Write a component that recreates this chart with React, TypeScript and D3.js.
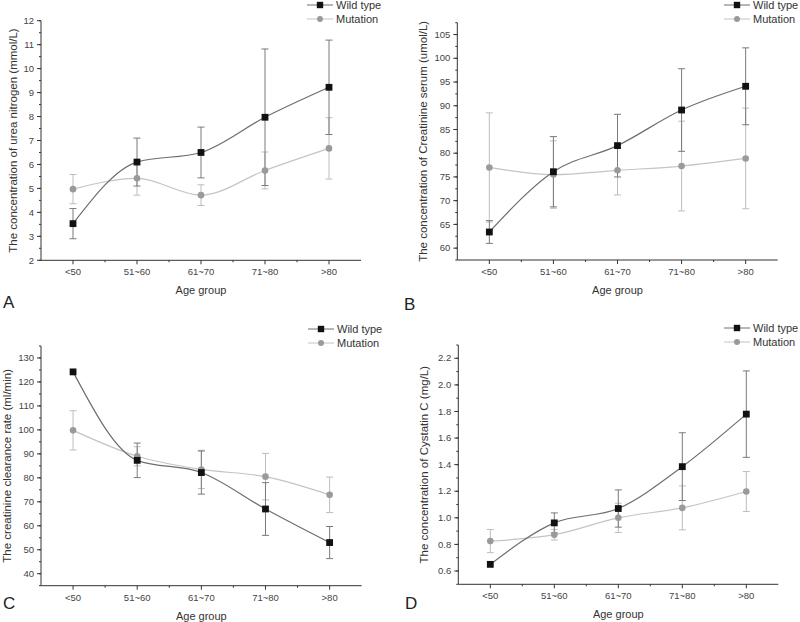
import React from 'react'
import * as d3 from 'd3'

// age groups shared by all four panels
const ageGroups = ['<50', '51~60', '61~70', '71~80', '>80']

// A: urea nitrogen
const ureaWild = [3.53, 6.1, 6.5, 7.97, 9.22]
const ureaWildErr = [0.63, 1.0, 1.06, 2.85, 1.97]
const ureaMut = [4.97, 5.42, 4.72, 5.75, 6.67]
const ureaMutErr = [0.61, 0.7, 0.43, 0.77, 1.28]

// B: creatinine serum
const creaWild = [63.4, 76.1, 81.6, 89.1, 94.1]
const creaWildErr = [2.4, 7.4, 6.6, 8.7, 8.1]
const creaMut = [77.0, 75.5, 76.4, 77.3, 78.9]
const creaMutErr = [11.5, 7.1, 5.2, 9.45, 10.6]

// C: creatinine clearance rate
const clearWild = [124.2, 87.3, 82.2, 67.0, 53.0]
const clearWildErr = [0, 7.2, 9.0, 11.0, 6.7]
const clearMut = [99.8, 89.0, 83.5, 80.5, 72.9]
const clearMutErr = [8.2, 4.0, 8.0, 9.7, 7.4]

// D: cystatin C
const cysWild = [0.65, 0.962, 1.07, 1.385, 1.78]
const cysWildErr = [0, 0.075, 0.14, 0.255, 0.325]
const cysMut = [0.825, 0.873, 1.0, 1.075, 1.198]
const cysMutErr = [0.087, 0.04, 0.11, 0.165, 0.15]

const FONT = 'Liberation Sans, Arial, sans-serif'
const WILD_LINE = '#6e6e6e'
const WILD_ERR = '#7a7a7a'
const MUT_LINE = '#c4c4c4'
const MUT_MARK = '#9a9a9a'
const MUT_ERR = '#bdbdbd'

interface PanelProps {
  letter: string
  yTitle: string
  x0: number
  x1: number
  yTop: number
  yBot: number
  domain: [number, number]
  ticks: number[]
  minorStep: number
  fmt: (v: number) => string
  titleOffset: number
  wild: number[]
  wildErr: number[]
  mut: number[]
  mutErr: number[]
  legendX: number
  legendY: number
  letterX: number
  letterY: number
}

function Panel(p: PanelProps) {
  const x = d3.scaleLinear().domain([0.5, ageGroups.length + 0.5]).range([p.x0, p.x1])
  const y = d3.scaleLinear().domain(p.domain).range([p.yBot, p.yTop])
  const line = d3.line<number>()
    .x((_, i) => x(i + 1))
    .y(d => y(d))
    .curve(d3.curveMonotoneX)

  const minor: number[] = []
  for (let v = Math.ceil(p.domain[0] / p.minorStep) * p.minorStep; v <= p.domain[1] + 1e-9; v += p.minorStep) {
    minor.push(v)
  }
  const xMinor = d3.range(1, ageGroups.length).map(i => i + 0.5)

  const errBars = (vals: number[], errs: number[], color: string, key: string) =>
    vals.map((v, i) => {
      if (!errs[i]) return null
      const cx = x(i + 1)
      const top = y(v + errs[i])
      const bot = y(v - errs[i])
      return (
        <g key={key + i} stroke={color} strokeWidth={1}>
          <line x1={cx} x2={cx} y1={top} y2={bot} />
          <line x1={cx - 3.5} x2={cx + 3.5} y1={top} y2={top} />
          <line x1={cx - 3.5} x2={cx + 3.5} y1={bot} y2={bot} />
        </g>
      )
    })

  const midY = (p.yTop + p.yBot) / 2
  const midX = (p.x0 + p.x1) / 2

  return (
    <g fontFamily={FONT}>
      {/* axes */}
      <line x1={p.x0} x2={p.x0} y1={p.yTop} y2={p.yBot} stroke="#333" strokeWidth={1} />
      <line x1={p.x0} x2={p.x1} y1={p.yBot} y2={p.yBot} stroke="#333" strokeWidth={1} />
      {minor.map((v, i) => (
        <line key={'ym' + i} x1={p.x0 - 2} x2={p.x0} y1={y(v)} y2={y(v)} stroke="#333" />
      ))}
      {p.ticks.map((v, i) => (
        <g key={'yt' + i}>
          <line x1={p.x0 - 4} x2={p.x0} y1={y(v)} y2={y(v)} stroke="#333" />
          <text x={p.x0 - 7} y={y(v) + 3.2} textAnchor="end" fontSize={9.5} fill="#444">
            {p.fmt(v)}
          </text>
        </g>
      ))}
      {xMinor.map((v, i) => (
        <line key={'xm' + i} x1={x(v)} x2={x(v)} y1={p.yBot} y2={p.yBot + 2} stroke="#333" />
      ))}
      {ageGroups.map((g, i) => (
        <g key={'xt' + i}>
          <line x1={x(i + 1)} x2={x(i + 1)} y1={p.yBot} y2={p.yBot + 4} stroke="#333" />
          <text x={x(i + 1)} y={p.yBot + 15} textAnchor="middle" fontSize={9.5} fill="#444">
            {g}
          </text>
        </g>
      ))}
      <text x={midX} y={p.yBot + 34} textAnchor="middle" fontSize={11} fill="#333">
        Age group
      </text>
      <text
        transform={`translate(${p.x0 - p.titleOffset},${midY}) rotate(-90)`}
        textAnchor="middle"
        fontSize={11.5}
        fill="#333"
      >
        {p.yTitle}
      </text>
      <text x={p.letterX} y={p.letterY} fontSize={17} fill="#222">
        {p.letter}
      </text>

      {/* error bars */}
      {errBars(p.mut, p.mutErr, MUT_ERR, 'me')}
      {errBars(p.wild, p.wildErr, WILD_ERR, 'we')}

      {/* lines */}
      <path d={line(p.mut) || ''} fill="none" stroke={MUT_LINE} strokeWidth={1.2} />
      <path d={line(p.wild) || ''} fill="none" stroke={WILD_LINE} strokeWidth={1.2} />

      {p.mut.map((v, i) => (
        <circle key={'mc' + i} cx={x(i + 1)} cy={y(v)} r={3.3} fill={MUT_MARK} />
      ))}
      {p.wild.map((v, i) => (
        <rect key={'wr' + i} x={x(i + 1) - 3.4} y={y(v) - 3.4} width={6.8} height={6.8} fill="#111" />
      ))}

      {/* legend */}
      <g>
        <line x1={p.legendX} x2={p.legendX + 26} y1={p.legendY} y2={p.legendY} stroke={WILD_LINE} />
        <rect x={p.legendX + 13 - 3.2} y={p.legendY - 3.2} width={6.4} height={6.4} fill="#111" />
        <text x={p.legendX + 29} y={p.legendY + 4} fontSize={11} fill="#333">Wild type</text>
        <line x1={p.legendX} x2={p.legendX + 26} y1={p.legendY + 14} y2={p.legendY + 14} stroke={MUT_LINE} />
        <circle cx={p.legendX + 13} cy={p.legendY + 14} r={3} fill={MUT_MARK} />
        <text x={p.legendX + 29} y={p.legendY + 18} fontSize={11} fill="#333">Mutation</text>
      </g>
    </g>
  )
}

export default function App() {
  return (
    <svg
      width={800}
      height={622}
      style={{ position: 'absolute', left: 0, top: 0, background: '#fff' }}
    >
      <rect width={800} height={622} fill="#fff" />
      <Panel
        letter="A"
        yTitle="The concentration of urea nitrogen (mmol/L)"
        x0={41} x1={361} yTop={20.7} yBot={260.3}
        domain={[2, 12]} ticks={d3.range(2, 12.01, 1)} minorStep={0.5}
        fmt={d3.format('d')} titleOffset={24.5}
        wild={ureaWild} wildErr={ureaWildErr} mut={ureaMut} mutErr={ureaMutErr}
        legendX={307} legendY={5} letterX={3} letterY={308}
      />
      <Panel
        letter="B"
        yTitle="The concentration of Creatinine serum (umol/L)"
        x0={457.3} x1={777.7} yTop={22.7} yBot={260}
        domain={[57.5, 107.5]} ticks={d3.range(60, 105.01, 5)} minorStep={2.5}
        fmt={d3.format('d')} titleOffset={30}
        wild={creaWild} wildErr={creaWildErr} mut={creaMut} mutErr={creaMutErr}
        legendX={724} legendY={5} letterX={404} letterY={310}
      />
      <Panel
        letter="C"
        yTitle="The creatinine clearance rate (ml/min)"
        x0={41} x1={361.7} yTop={346} yBot={585.7}
        domain={[35, 135]} ticks={d3.range(40, 130.01, 10)} minorStep={5}
        fmt={d3.format('d')} titleOffset={30.5}
        wild={clearWild} wildErr={clearWildErr} mut={clearMut} mutErr={clearMutErr}
        legendX={308} legendY={329} letterX={3} letterY={609}
      />
      <Panel
        letter="D"
        yTitle="The concentration of Cystatin C (mg/L)"
        x0={458.3} x1={778.3} yTop={345} yBot={584.3}
        domain={[0.5, 2.3]} ticks={d3.range(0.6, 2.21, 0.2)} minorStep={0.1}
        fmt={d3.format('.1f')} titleOffset={30}
        wild={cysWild} wildErr={cysWildErr} mut={cysMut} mutErr={cysMutErr}
        legendX={724} legendY={328} letterX={405} letterY={609}
      />
    </svg>
  )
}
